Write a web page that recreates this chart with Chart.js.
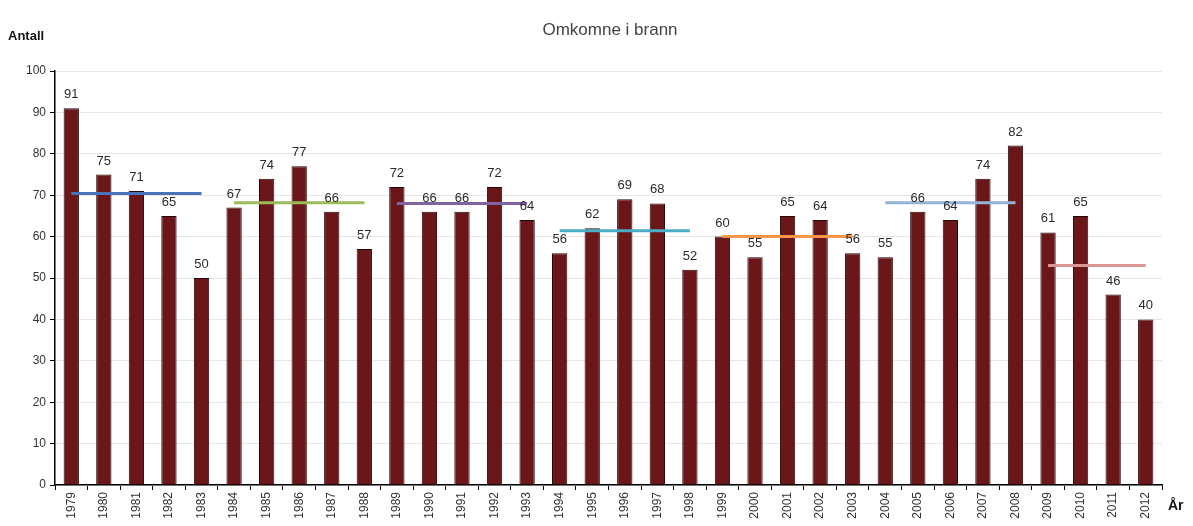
<!DOCTYPE html>
<html>
<head>
<meta charset="utf-8">
<script src="https://cdn.jsdelivr.net/npm/chart.js@4/dist/chart.umd.min.js"></script>
<style>
  html, body { margin: 0; padding: 0; background: #fff; }
  #wrap { width: 1193px; height: 526px; position: relative; }
</style>
</head>
<body>
<div id="wrap"><canvas id="myChart"></canvas></div>
<script>
// Omkomne i brann, 1979-2012
const years = ['1979','1980','1981','1982','1983','1984','1985','1986','1987','1988',
  '1989','1990','1991','1992','1993','1994','1995','1996','1997','1998',
  '1999','2000','2001','2002','2003','2004','2005','2006','2007','2008',
  '2009','2010','2011','2012'];
const omkomne = [91,75,71,65,50,67,74,77,66,57,72,66,66,72,64,56,62,69,68,52,
  60,55,65,64,56,55,66,64,74,82,61,65,46,40];

// femårsgjennomsnitt: første år, siste år, snitt
const perioder = [
  { fra: '1979', til: '1983', snitt: 70.4, farge: '#4a72b8' },
  { fra: '1984', til: '1988', snitt: 68.2, farge: '#9bbb59' },
  { fra: '1989', til: '1993', snitt: 68, farge: '#8064a2' },
  { fra: '1994', til: '1998', snitt: 61.4, farge: '#4bacc6' },
  { fra: '1999', til: '2003', snitt: 60, farge: '#f79646' },
  { fra: '2004', til: '2008', snitt: 68.2, farge: '#95b3d7' },
  { fra: '2009', til: '2012', snitt: 53, farge: '#d99694' }
];
const yTicks = [0,10,20,30,40,50,60,70,80,90,100];

const FONT = '"Liberation Sans", Arial, sans-serif';

const snittSets = perioder.map(p => {
  const a = years.indexOf(p.fra), b = years.indexOf(p.til);
  return {
    type: 'line',
    data: years.map((y, i) => (i >= a && i <= b) ? p.snitt : null),
    borderColor: p.farge,
    borderWidth: 3,
    pointRadius: 0,
    spanGaps: false,
    order: 0
  };
});

// verdiene over søylene + tekstene rundt plottet
const tekstPlugin = {
  id: 'tekster',
  afterDatasetsDraw(chart) {
    const ctx = chart.ctx;
    const meta = chart.getDatasetMeta(0);
    ctx.save();
    ctx.fillStyle = '#2a2a2a';
    ctx.font = '13px ' + FONT;
    ctx.textAlign = 'center';
    ctx.textBaseline = 'alphabetic';
    meta.data.forEach((bar, i) => {
      ctx.fillText(String(omkomne[i]), bar.x, bar.y - 10);
    });
    ctx.restore();
  },
  afterDraw(chart) {
    const ctx = chart.ctx;
    ctx.save();
    ctx.fillStyle = '#444';
    ctx.font = '17px ' + FONT;
    ctx.textAlign = 'center';
    ctx.textBaseline = 'middle';
    ctx.fillText('Omkomne i brann', 610, 30);
    ctx.fillStyle = '#111';
    ctx.font = 'bold 13px ' + FONT;
    ctx.textAlign = 'left';
    ctx.fillText('Antall', 8, 36);
    ctx.font = 'bold 14px ' + FONT;
    ctx.fillText('År', 1168, 506);
    ctx.restore();
  }
};

const chart = new Chart(document.getElementById('myChart'), {
  type: 'bar',
  data: {
    labels: years,
    datasets: [{
      type: 'bar',
      data: omkomne,
      backgroundColor: '#6b1719',
      borderColor: '#2a0505',
      borderWidth: 1,
      categoryPercentage: 1,
      barPercentage: 0.47,
      order: 1
    }, ...snittSets]
  },
  options: {
    responsive: true,
    maintainAspectRatio: false,
    animation: false,
    layout: { padding: { top: 71, right: 31, left: 0, bottom: 0 } },
    plugins: { legend: { display: false }, tooltip: { enabled: false } },
    scales: {
      x: {
        offset: true,
        grid: { offset: true, drawOnChartArea: false, drawTicks: true, tickLength: 5, color: '#000' },
        border: { color: '#000', width: 1.5 },
        ticks: { minRotation: 90, maxRotation: 90, color: '#333', font: { family: FONT, size: 12 }, padding: 2 },
        afterFit(scale) { scale.height = 41; }
      },
      y: {
        min: 0,
        max: 100,
        afterBuildTicks(scale) { scale.ticks = yTicks.map(v => ({ value: v })); },
        grid: { color: '#e6e6e6', tickColor: '#000', tickLength: 5 },
        border: { color: '#000', width: 1.5 },
        ticks: { color: '#333', font: { family: FONT, size: 12 }, padding: 4 },
        afterFit(scale) { scale.width = 55; }
      }
    }
  },
  plugins: [tekstPlugin]
});
</script>
</body>
</html>
